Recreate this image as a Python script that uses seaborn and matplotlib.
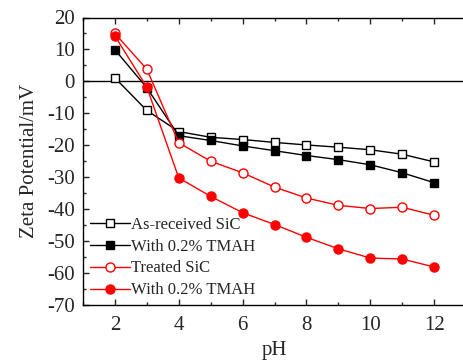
import matplotlib
matplotlib.use("Agg")
import matplotlib.pyplot as plt
import seaborn as sns
import pandas as pd
from matplotlib.ticker import MultipleLocator

ph = [2, 3, 4, 5, 6, 7, 8, 9, 10, 11, 12]
as_received = [1.1, -9.1, -15.7, -17.5, -18.2, -19.1, -19.9, -20.6, -21.4, -22.8, -25.2]
as_received_tmah = [9.9, -2.0, -17.0, -18.5, -20.2, -21.7, -23.2, -24.5, -26.1, -28.6, -31.7]
treated = [15.0, 3.8, -19.2, -25.0, -28.6, -33.1, -36.5, -38.8, -39.8, -39.4, -41.9]
treated_tmah = [14.2, -1.8, -30.2, -36.0, -41.1, -44.8, -48.8, -52.4, -55.3, -55.6, -58.1]
labels = ["As-received SiC", "With 0.2% TMAH", "Treated SiC", "With 0.2% TMAH"]

sns.set_style("ticks")
plt.rcParams['font.family'] = ['Liberation Serif', 'DejaVu Serif']
plt.rcParams['axes.unicode_minus'] = False

fig = plt.figure(figsize=(4.63, 3.62), dpi=100)
ax = fig.add_axes([83 / 463, 57 / 362, 383 / 463, 287.5 / 362])

series = [
    (as_received, "black", "s", "white", 5.5),
    (as_received_tmah, "black", "s", "black", 5.5),
    (treated, "red", "o", "white", 6.5),
    (treated_tmah, "red", "o", "red", 6.5),
]
for (vals, col, mk, mfc, ms), lab in zip(series, labels):
    df = pd.DataFrame({"pH": ph, "zeta": vals})
    sns.lineplot(data=df, x="pH", y="zeta", ax=ax, color=col, marker=mk,
                 markerfacecolor=mfc, markeredgecolor=col, markeredgewidth=1.0,
                 markersize=ms, linewidth=1.0, label=lab)

ax.axhline(0, color="black", linewidth=1.0, zorder=1)

ax.set_xlim(1, 13)
ax.set_ylim(-70, 20)
ax.xaxis.set_major_locator(MultipleLocator(2))
ax.xaxis.set_minor_locator(MultipleLocator(1))
ax.yaxis.set_major_locator(MultipleLocator(10))
ax.yaxis.set_minor_locator(MultipleLocator(5))
ax.tick_params(which="both", direction="in", top=True, right=False, labelsize=15)
ax.tick_params(axis="x", pad=8)
ax.tick_params(axis="y", pad=6)
ax.tick_params(which="major", length=4, width=1)
ax.tick_params(which="minor", length=2.5, width=1)
for s in ax.spines.values():
    s.set_linewidth(1.0)
    s.set_color("black")

ax.set_xlabel("pH", fontsize=15, labelpad=4)
ax.set_ylabel("Zeta Potential/mV", fontsize=15, labelpad=6)

ax.legend(loc="lower left", bbox_to_anchor=(0.0, 0.0), frameon=False, fontsize=12,
          handlelength=2.4, handletextpad=0.1, labelspacing=0.35, borderaxespad=0.2,
          borderpad=0.2)

fig.savefig("out.png", dpi=100)
